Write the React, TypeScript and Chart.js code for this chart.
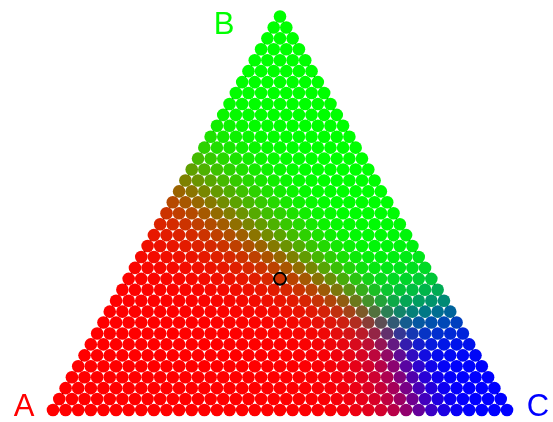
import React, { useEffect, useRef } from "react";
import { Chart, registerables } from "chart.js";

Chart.register(...registerables);

// Ternary lattice: every composition (a, b, c) with a + b + c = divisions
const divisions = 36;
const vertexLabels = ["A", "B", "C"];
const vertexColors = ["#ff0000", "#00ff00", "#0000ff"];
// Highlighted composition (centroid) in lattice units [a, b, c]
const highlighted = [12, 12, 12];
// Colour mixing weights per component (A, B, C) and sharpness
const mixWeights = [1.39, 1.0, 0.37];
const mixPower = 4.2;

const SQ3 = Math.sqrt(3) / 2;

function toXY(a: number, b: number, c: number) {
  const s = a + b + c;
  return { x: (c + b / 2) / s, y: (b * SQ3) / s };
}

function mixColor(a: number, b: number, c: number) {
  const t = [a, b, c];
  const v = t.map((ti, i) => Math.pow(mixWeights[i] * ti, mixPower));
  const sum = v[0] + v[1] + v[2];
  const ch = v.map((vi) => Math.round((255 * vi) / sum));
  return `rgb(${ch[0]},${ch[1]},${ch[2]})`;
}

const latticePoints: { x: number; y: number }[] = [];
const latticeColors: string[] = [];
for (let b = 0; b <= divisions; b++) {
  for (let c = 0; c <= divisions - b; c++) {
    const a = divisions - b - c;
    latticePoints.push(toXY(a, b, c));
    latticeColors.push(mixColor(a, b, c));
  }
}

const labelPlugin = {
  id: "vertexLabels",
  afterDraw(chart: any) {
    const ctx = chart.ctx as CanvasRenderingContext2D;
    const xs = chart.scales.x;
    const ys = chart.scales.y;
    const pos = [
      { x: xs.getPixelForValue(0) - 29, y: ys.getPixelForValue(0) + 6 },
      { x: xs.getPixelForValue(0.5) - 56, y: ys.getPixelForValue(SQ3) + 17 },
      { x: xs.getPixelForValue(1) + 31, y: ys.getPixelForValue(0) + 6 },
    ];
    ctx.save();
    ctx.font = "31px 'Liberation Sans', Arial, sans-serif";
    ctx.textAlign = "center";
    ctx.textBaseline = "alphabetic";
    vertexLabels.forEach((l, i) => {
      ctx.fillStyle = vertexColors[i];
      ctx.fillText(l, pos[i].x, pos[i].y);
    });
    ctx.restore();
  },
};

export default function App() {
  const ref = useRef<HTMLCanvasElement>(null);
  useEffect(() => {
    if (!ref.current) return;
    const h = highlighted;
    const chart = new Chart(ref.current, {
      type: "scatter",
      data: {
        datasets: [
          {
            data: [toXY(h[0], h[1], h[2])],
            pointRadius: 6,
            pointBackgroundColor: mixColor(h[0], h[1], h[2]),
            pointBorderColor: "#000000",
            pointBorderWidth: 2,
            clip: false,
          },
          {
            data: latticePoints,
            pointRadius: 6.3,
            pointBackgroundColor: latticeColors,
            pointBorderWidth: 0,
            clip: false,
          },
          {
            data: [toXY(1, 0, 0), toXY(0, 1, 0), toXY(0, 0, 1), toXY(1, 0, 0)],
            showLine: true,
            borderColor: "#000000",
            borderWidth: 1,
            pointRadius: 0,
            clip: false,
          },
        ],
      },
      options: {
        responsive: false,
        animation: false,
        layout: { padding: { left: 53, right: 46, top: 16.5, bottom: 12 } },
        plugins: { legend: { display: false }, tooltip: { enabled: false } },
        scales: {
          x: { type: "linear", min: 0, max: 1, display: false },
          y: { type: "linear", min: 0, max: SQ3, display: false },
        },
      },
      plugins: [labelPlugin],
    });
    return () => chart.destroy();
  }, []);
  return (
    <div style={{ position: "fixed", left: 0, top: 0, width: 553, height: 422, background: "#fff" }}>
      <canvas ref={ref} width={553} height={422} />
    </div>
  );
}
